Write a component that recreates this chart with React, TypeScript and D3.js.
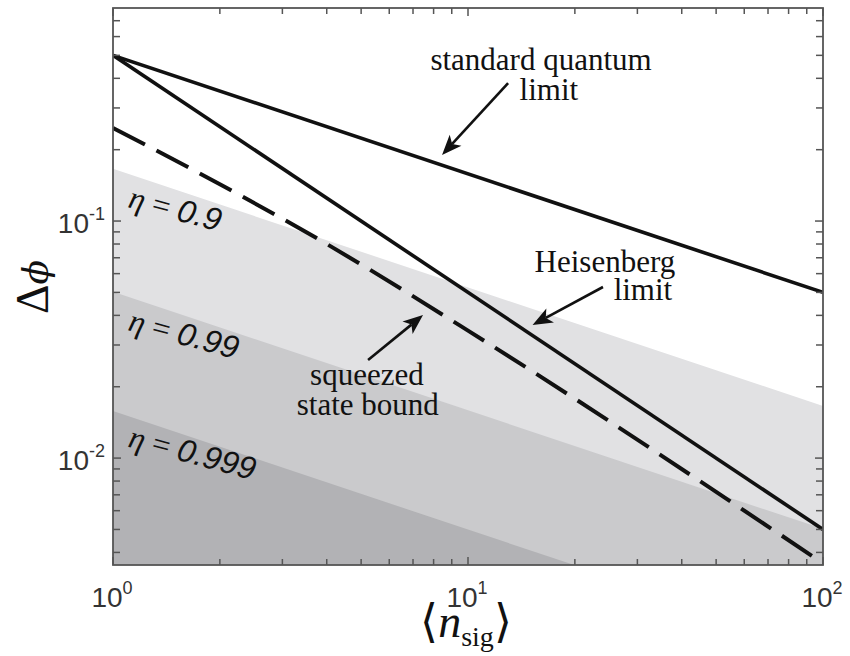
import React from 'react';
import * as d3 from 'd3';

// ---- data ----
const xDomain: [number, number] = [1, 100];
const yDomain: [number, number] = [0.00354, 0.792];
const xMajor = [1, 10, 100];
const xExp = ['0', '1', '2'];
const yMajor = [0.01, 0.1];
const yExp = ['-2', '-1'];

const sqlN = [1, 100];
const sqlDphi = [0.5, 0.05];
const heisN = [1, 100];
const heisDphi = [0.5, 0.005];
const sqzN = [1, 2, 4, 10, 20, 50, 100];
const sqzDphi = [0.247, 0.143, 0.08, 0.0345, 0.0178, 0.0072, 0.0036];

const lossN = [1, 100];
const etaLabels = ['0.9', '0.99', '0.999'];
const lossDphi09 = [0.166, 0.0166];
const lossDphi099 = [0.0503, 0.00503];
const lossDphi0999 = [0.0158, 0.00158];
const bandColors = ['#e1e1e3', '#cacacc', '#b2b2b5'];
const etaLabelAt = [[1.095, 0.1146], [1.095, 0.0347], [1.095, 0.0112]];

// annotations: [tailN, tailDphi, tipN, tipDphi]
const arrows = [
  [12.97, 0.382, 8.45, 0.19],
  [24.0, 0.0527, 15.2, 0.0364],
  [5.23, 0.0259, 7.47, 0.0401],
];
const annoText = ['standard quantum', 'limit', 'Heisenberg', 'limit', 'squeezed', 'state bound'];
const annoAt = [
  [16.06, 0.4335], [16.9, 0.324],
  [24.3, 0.061], [31.1, 0.0464],
  [5.19, 0.0203], [5.22, 0.0152],
];

const W = 850, H = 656;
const L = 113, R = 823, T = 8, B = 565;

export default function App() {
  const x = d3.scaleLog().domain(xDomain).range([L, R]);
  const y = d3.scaleLog().domain(yDomain).range([B, T]);

  const line = (ns: number[], vs: number[], curve = d3.curveLinear) =>
    d3.line<number>().x((_, i) => x(ns[i])).y((_, i) => y(vs[i])).curve(curve)(ns) || '';
  const area = (ns: number[], vs: number[]) =>
    d3.area<number>().x((_, i) => x(ns[i])).y0(B + 5).y1((_, i) => y(vs[i]))(ns) || '';

  const xTicks = x.ticks();
  const yTicks = y.ticks();
  const bands = [lossDphi09, lossDphi099, lossDphi0999];
  const axisCol = '#555';

  const arrowEl = (a: number[], i: number) => {
    const x1 = x(a[0]), y1 = y(a[1]), x2 = x(a[2]), y2 = y(a[3]);
    const ang = Math.atan2(y2 - y1, x2 - x1);
    const hl = 20, hw = 8, notch = 5;
    const ux = Math.cos(ang), uy = Math.sin(ang);
    const px = -uy, py = ux;
    const bx = x2 - ux * hl, by = y2 - uy * hl;
    const nx = x2 - ux * (hl - notch), ny = y2 - uy * (hl - notch);
    const pts = [
      [x2, y2],
      [bx + px * hw, by + py * hw],
      [nx, ny],
      [bx - px * hw, by - py * hw],
    ];
    return (
      <g key={'ar' + i}>
        <line x1={x1} y1={y1} x2={nx} y2={ny} stroke="#111" strokeWidth={2.6} />
        <polygon points={pts.map(p => p.join(',')).join(' ')} fill="#111" />
      </g>
    );
  };

  return (
    <svg width={W} height={H} style={{ position: 'absolute', left: 0, top: 0, background: '#fff' }}>
      <defs>
        <clipPath id="plot"><rect x={L} y={T} width={R - L} height={B - T} /></clipPath>
      </defs>
      <rect x={0} y={0} width={W} height={H} fill="#fff" />
      <g clipPath="url(#plot)">
        {bands.map((b, i) => (
          <path key={'b' + i} d={area(lossN, b)} fill={bandColors[i]} />
        ))}
        <path d={line(sqlN, sqlDphi)} stroke="#111" strokeWidth={3.6} fill="none" />
        <path d={line(heisN, heisDphi)} stroke="#111" strokeWidth={3.6} fill="none" />
        <path d={line(sqzN, sqzDphi, d3.curveMonotoneX)} stroke="#111" strokeWidth={4} fill="none"
          strokeDasharray="36 13" />
      </g>

      {/* eta labels */}
      {etaLabels.map((t, i) => {
        const px = x(etaLabelAt[i][0]), py = y(etaLabelAt[i][1]);
        return (
          <text key={'eta' + i} transform={`translate(${px},${py}) rotate(15)`} fontSize={32} fill="#111">
            <tspan fontFamily="Liberation Serif" fontStyle="italic">η</tspan>
            <tspan fontFamily="Liberation Serif"> = </tspan>
            <tspan fontFamily="Liberation Sans" fontStyle="italic">{t}</tspan>
          </text>
        );
      })}

      {/* annotations */}
      {arrows.map(arrowEl)}
      {annoText.map((t, i) => (
        <text key={'an' + i} x={x(annoAt[i][0])} y={y(annoAt[i][1])} textAnchor="middle"
          fontFamily="Liberation Serif" fontSize={31} fill="#111">{t}</text>
      ))}

      {/* frame */}
      <rect x={L} y={T} width={R - L} height={B - T} fill="none" stroke={axisCol} strokeWidth={1.8} />
      {xTicks.map((t, i) => {
        const len = xMajor.includes(t) ? 8 : 6;
        return (
          <g key={'xt' + i} stroke={axisCol} strokeWidth={1.5}>
            <line x1={x(t)} x2={x(t)} y1={B} y2={B - len} />
            <line x1={x(t)} x2={x(t)} y1={T} y2={T + len} />
          </g>
        );
      })}
      {yTicks.map((t, i) => {
        const len = yMajor.some(m => Math.abs(m - t) < 1e-9) ? 8 : 7;
        return (
          <g key={'yt' + i} stroke={axisCol} strokeWidth={1.5}>
            <line x1={L} x2={L + len} y1={y(t)} y2={y(t)} />
            <line x1={R} x2={R - len} y1={y(t)} y2={y(t)} />
          </g>
        );
      })}

      {/* tick labels */}
      {xMajor.map((t, i) => (
        <text key={'xl' + i} x={x(t) - 1} y={607} textAnchor="middle" fontFamily="Liberation Sans"
          fontSize={28} fill="#333">
          10<tspan fontSize={18} dy={-13}>{xExp[i]}</tspan>
        </text>
      ))}
      {yMajor.map((t, i) => (
        <text key={'yl' + i} x={L - 8} y={y(t) + 12} textAnchor="end" fontFamily="Liberation Sans"
          fontSize={28} fill="#333">
          10<tspan fontSize={18} dy={-13}>{yExp[i]}</tspan>
        </text>
      ))}

      {/* axis titles */}
      <text transform={`translate(48,287) rotate(-90)`} textAnchor="middle" fontSize={46} fill="#111"
        fontFamily="Liberation Serif">
        Δ<tspan fontFamily="DejaVu Serif" fontStyle="italic" fontSize={36}>ϕ</tspan>
      </text>
      <text x={466} y={637} textAnchor="middle" fontFamily="Liberation Serif" fontSize={46} fill="#111">
        <tspan fontFamily="DejaVu Sans" fontWeight={200}>⟨</tspan>
        <tspan fontStyle="italic">n</tspan>
        <tspan fontSize={28} dy={9}>sig</tspan>
        <tspan dy={-9} fontFamily="DejaVu Sans" fontWeight={200}>⟩</tspan>
      </text>
    </svg>
  );
}
